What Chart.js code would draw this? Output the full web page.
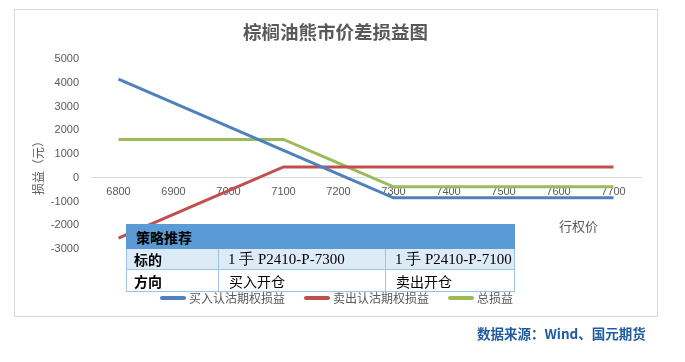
<!DOCTYPE html>
<html>
<head>
<meta charset="utf-8">
<script src="https://cdn.jsdelivr.net/npm/chart.js@4.4.1/dist/chart.umd.min.js"></script>
<style>
  html, body { margin: 0; padding: 0; background: #fff; }
  body { width: 685px; height: 362px; position: relative; overflow: hidden;
         font-family: "Noto Sans CJK SC", sans-serif; color: #595959; }
  #frame { position: absolute; left: 14px; top: 9px; width: 642px; height: 306px;
           border: 1px solid #d9d9d9; }
  #c { position: absolute; left: 0; top: 0; }
  .txt { position: absolute; white-space: nowrap; }
  #ytitle { left: -2px; top: 157px; width: 80px; height: 16px; line-height: 16px;
            font-size: 12px; text-align: center; transform: rotate(-90deg); }
  #xtitle { left: 559px; top: 217px; font-size: 13px; line-height: 18px; }
  #source { left: 477px; top: 324px; font-size: 13.5px; line-height: 18px;
            font-weight: bold; color: #1f5c9f; }
  #strat { position: absolute; left: 126px; top: 224px; width: 388px;
           border-collapse: collapse; table-layout: fixed; color: #000; }
  #strat th { background: #5b9bd5; height: 23px; padding: 0 0 0 9px; text-align: left;
              font-size: 14px; font-weight: bold; border: 1px solid #5b9bd5; }
  #strat td { height: 19px; padding: 0 0 0 10px; font-size: 14px; border: 1px solid #9dc3e6;
              white-space: nowrap; overflow: hidden; }
  #strat tr.r1 td { background: #ddebf7; }
  #strat tr.r2 td { background: #fff; height: 21px; }
  #strat td.k { font-weight: bold; padding-left: 7px; }
  #strat td.code { font-family: "Liberation Serif", serif; font-size: 15px; padding-left: 9px; }
  #legend { position: absolute; left: 160px; top: 290px; display: flex; gap: 19px;
            font-size: 12px; line-height: 16px; }
  #legend .item { display: flex; align-items: center; }
  #legend .swatch { width: 26px; height: 4px; margin-right: 3px; border-radius: 2px; }
</style>
</head>
<body>
<div id="frame"></div>
<canvas id="c" width="685" height="362"></canvas>
<div id="ytitle" class="txt">损益（元）</div>
<div id="xtitle" class="txt">行权价</div>
<table id="strat"></table>
<div id="legend"></div>
<div id="source" class="txt">数据来源：Wind、国元期货</div>
<script>
// 行权价（横轴）
const strikes = ["6800", "6900", "7000", "7100", "7200", "7300", "7400", "7500", "7600", "7700"];
// 各腿损益（元）
const buyPut  = [4160, 3160, 2160, 1160, 160, -840, -840, -840, -840, -840];
const sellPut = [-2540, -1540, -540, 460, 460, 460, 460, 460, 460, 460];
const total   = [1620, 1620, 1620, 1620, 620, -380, -380, -380, -380, -380];
const seriesNames = ["买入认沽期权损益", "卖出认沽期权损益", "总损益"];
const yMin = -3000, yMax = 5000, yStep = 1000;

// 策略表
const stratTitle = "策略推荐";
const stratRows = [
  ["标的", "1 手 P2410-P-7300", "1 手 P2410-P-7100"],
  ["方向", "买入开仓", "卖出开仓"],
];

const COLORS = ["#4f81bd", "#c0504d", "#9bbb59"];

Chart.defaults.font.family = "'Liberation Sans', 'Noto Sans CJK SC', sans-serif";
Chart.defaults.color = "#595959";

const chart = new Chart(document.getElementById("c").getContext("2d"), {
  type: "line",
  data: {
    labels: strikes,
    datasets: [buyPut, sellPut, total].map((d, i) => ({
      label: seriesNames[i],
      data: d,
      borderColor: COLORS[i],
      backgroundColor: COLORS[i],
      borderWidth: 3,
      pointRadius: 0,
      tension: 0,
    })),
  },
  options: {
    responsive: false,
    animation: false,
    layout: { padding: { left: 30, right: 44, top: 0, bottom: 113 } },
    plugins: {
      legend: { display: false },
      tooltip: { enabled: false },
      title: {
        display: true,
        text: "棕榈油熊市价差损益图",
        color: "#595959",
        font: { size: 18.5, weight: "bold", family: "'Noto Sans CJK SC', sans-serif" },
        padding: { top: 21, bottom: 16 },
      },
    },
    scales: {
      x: {
        type: "category",
        offset: true,
        position: { y: 0 },
        grid: { display: false, drawTicks: false },
        border: { color: "#d9d9d9", width: 1 },
        ticks: { color: "#595959", font: { size: 11 }, padding: 8, maxRotation: 0, autoSkip: false },
      },
      y: {
        min: yMin,
        max: yMax,
        afterFit(s) { s.width = 61; },
        grid: { display: false, drawTicks: false },
        border: { display: false },
        ticks: { stepSize: yStep, padding: 12, color: "#595959", font: { size: 11 },
                 callback: v => String(v) },
      },
    },
  },
});

// 表格
const tbl = document.getElementById("strat");
tbl.innerHTML =
  '<colgroup><col style="width:92px"><col style="width:167px"><col style="width:129px"></colgroup>' +
  `<tr><th colspan="3">${stratTitle}</th></tr>` +
  stratRows.map((r, i) => `<tr class="r${i + 1}">` +
    r.map((c, j) => `<td class="${j === 0 ? "k" : (/P\d/.test(c) ? "code" : "")}">${c}</td>`).join("") +
    "</tr>").join("");

// 图例
document.getElementById("legend").innerHTML = chart.data.datasets.map(ds => `
  <div class="item"><span class="swatch" style="background:${ds.borderColor}"></span>${ds.label}</div>`).join("");
</script>
</body>
</html>
